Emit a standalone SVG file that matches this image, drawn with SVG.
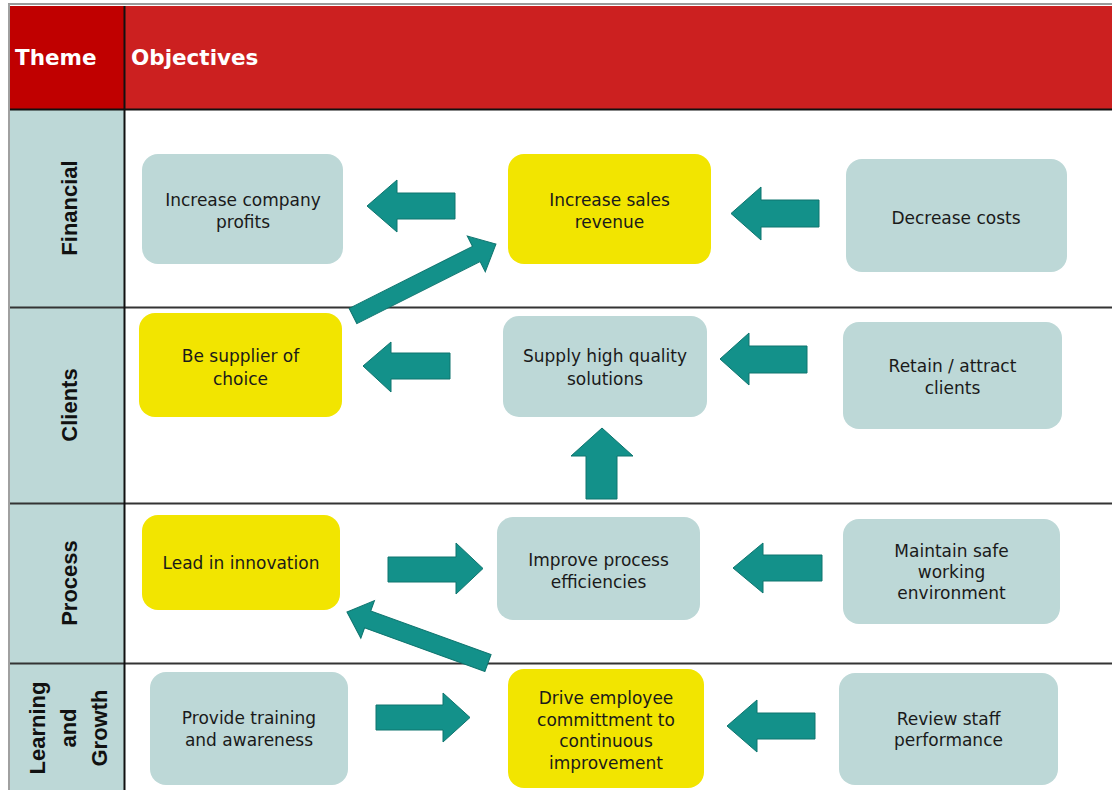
<svg xmlns="http://www.w3.org/2000/svg" width="1112" height="790" viewBox="0 0 1112 790">
<style>
.nb{fill:#bdd8d7}
.ny{fill:#f2e500}
.nt{font-family:"DejaVu Sans",Verdana,sans-serif;font-size:17px;fill:#1a1a1a;text-anchor:middle}
.hd{font-family:"DejaVu Sans",Verdana,sans-serif;font-size:21.5px;font-weight:bold;fill:#ffffff}
.rl{font-family:"Liberation Sans",Arial,sans-serif;font-size:22px;font-weight:bold;fill:#111111;text-anchor:middle}
.ar{fill:#13918a;stroke:#0e746e;stroke-width:1}
.sep{stroke:#333333;stroke-width:2}
</style>
<rect x="0" y="0" width="1112" height="790" fill="#ffffff"/>
<g id="frame">
<line x1="8" y1="4" x2="1112" y2="4" stroke="#9a9a9a" stroke-width="2"/>
<line x1="9" y1="4" x2="9" y2="790" stroke="#a0a0a0" stroke-width="2"/>
<rect x="10" y="6" width="114" height="103" fill="#c00000"/>
<rect x="124" y="6" width="988" height="103" fill="#cc2020"/>
<rect x="10" y="110" width="114" height="680" fill="#bdd8d7"/>
<line x1="10" y1="109.5" x2="1112" y2="109.5" stroke="#111" stroke-width="2"/>
<line class="sep" x1="10" y1="307.5" x2="1112" y2="307.5"/>
<line class="sep" x1="10" y1="503.5" x2="1112" y2="503.5"/>
<line class="sep" x1="10" y1="663.5" x2="1112" y2="663.5"/>
<line x1="124.5" y1="6" x2="124.5" y2="790" stroke="#111" stroke-width="2"/>
<text class="hd" x="15" y="65">Theme</text>
<text class="hd" x="131" y="65">Objectives</text>
<text class="rl" transform="translate(77,208) rotate(-90)">Financial</text>
<text class="rl" transform="translate(77,405) rotate(-90)">Clients</text>
<text class="rl" transform="translate(77,583) rotate(-90)">Process</text>
<text class="rl" transform="translate(45,728) rotate(-90)">Learning</text>
<text class="rl" transform="translate(76,728) rotate(-90)">and</text>
<text class="rl" transform="translate(107,728) rotate(-90)">Growth</text>
</g>
<g id="connectors">
<path class="ar" d="M367,206 L397,180 L397,193 L455,193 L455,219 L397,219 L397,232 Z"/>
<path class="ar" d="M731,213.5 L761,187 L761,200 L819,200 L819,227 L761,227 L761,240 Z"/>
<path class="ar" transform="translate(353,316) rotate(-26.7)" d="M0,-8.5 L138,-8.5 L138,-20 L160,0 L138,20 L138,8.5 L0,8.5 Z"/>
<path class="ar" d="M363,366 L391,342 L391,353 L450,353 L450,379 L391,379 L391,392 Z"/>
<path class="ar" d="M720,359 L749,333 L749,346 L807,346 L807,373 L749,373 L749,385 Z"/>
<path class="ar" d="M602,428 L633,456 L617,456 L617,499 L586,499 L586,456 L571,456 Z"/>
<path class="ar" d="M483,568.5 L456,543 L456,557 L388,557 L388,582 L456,582 L456,594 Z"/>
<path class="ar" d="M733,568 L763,543 L763,555 L822,555 L822,581 L763,581 L763,593 Z"/>
<path class="ar" transform="translate(488,663) rotate(-160.1)" d="M0,-9 L128,-9 L128,-20 L150,0 L128,20 L128,9 L0,9 Z"/>
<path class="ar" d="M470,717.5 L443,693 L443,705 L376,705 L376,730 L443,730 L443,742 Z"/>
<path class="ar" d="M727,726 L757,700 L757,713 L815,713 L815,739 L757,739 L757,752 Z"/>
</g>
<g id="n-profits"><rect class="nb" x="142" y="154" width="201" height="110" rx="16"/><text class="nt" x="243" y="206">Increase company</text><text class="nt" x="243" y="228">profits</text></g>
<g id="n-sales"><rect class="ny" x="508" y="154" width="203" height="110" rx="16"/><text class="nt" x="609.5" y="206">Increase sales</text><text class="nt" x="609.5" y="228">revenue</text></g>
<g id="n-costs"><rect class="nb" x="846" y="159" width="221" height="113" rx="16"/><text class="nt" x="956" y="224">Decrease costs</text></g>
<g id="n-supplier"><rect class="ny" x="139" y="313" width="203" height="104" rx="16"/><text class="nt" x="240.5" y="362">Be supplier of</text><text class="nt" x="240.5" y="385">choice</text></g>
<g id="n-quality"><rect class="nb" x="503" y="316" width="204" height="101" rx="16"/><text class="nt" x="605" y="362">Supply high quality</text><text class="nt" x="605" y="385">solutions</text></g>
<g id="n-retain"><rect class="nb" x="843" y="322" width="219" height="107" rx="16"/><text class="nt" x="952.5" y="372">Retain / attract</text><text class="nt" x="952.5" y="394">clients</text></g>
<g id="n-innovation"><rect class="ny" x="142" y="515" width="198" height="95" rx="16"/><text class="nt" x="241" y="569">Lead in innovation</text></g>
<g id="n-efficiencies"><rect class="nb" x="497" y="517" width="203" height="103" rx="16"/><text class="nt" x="598.5" y="566">Improve process</text><text class="nt" x="598.5" y="588">efficiencies</text></g>
<g id="n-safe"><rect class="nb" x="843" y="519" width="217" height="105" rx="16"/><text class="nt" x="951.5" y="557">Maintain safe</text><text class="nt" x="951.5" y="578">working</text><text class="nt" x="951.5" y="599">environment</text></g>
<g id="n-training"><rect class="nb" x="150" y="672" width="198" height="113" rx="16"/><text class="nt" x="249" y="724">Provide training</text><text class="nt" x="249" y="746">and awareness</text></g>
<g id="n-drive"><rect class="ny" x="508" y="669" width="196" height="119" rx="16"/><text class="nt" x="606" y="704">Drive employee</text><text class="nt" x="606" y="726">committment to</text><text class="nt" x="606" y="747">continuous</text><text class="nt" x="606" y="769">improvement</text></g>
<g id="n-review"><rect class="nb" x="839" y="673" width="219" height="112" rx="16"/><text class="nt" x="948.5" y="725">Review staff</text><text class="nt" x="948.5" y="746">performance</text></g>
</svg>
